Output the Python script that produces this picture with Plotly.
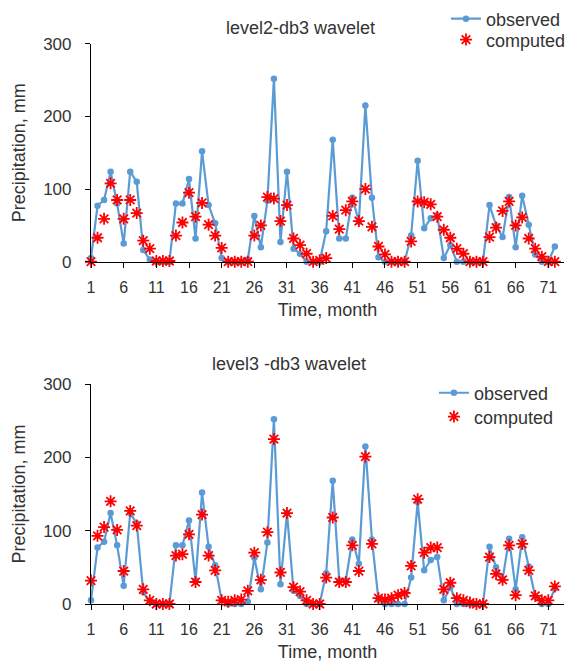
import plotly.graph_objects as go
from plotly.subplots import make_subplots

months = list(range(1, 73))

observed = [5, 77, 85, 124, 80, 25, 124, 110, 16, 3, 0, 0,
            0, 80, 80, 114, 32, 152, 78, 53, 5, 0, 0, 0,
            3, 63, 20, 84, 252, 27, 124, 18, 11, 0, 0, 0,
            42, 168, 32, 32, 88, 55, 215, 88, 6, 0, 0, 0,
            0, 36, 139, 46, 60, 64, 5, 23, 0, 0, 0, 0,
            0, 78, 50, 34, 89, 20, 91, 51, 10, 0, 0, 21]

computed_l2 = [0, 33, 59, 108, 85, 59, 85, 67, 29, 18, 1, 1,
               1, 36, 54, 95, 62, 81, 51, 36, 19, 0, 0, 0,
               0, 36, 50, 89, 87, 56, 78, 32, 23, 11, 0, 2,
               5, 63, 45, 71, 83, 56, 100, 48, 21, 10, 0, 0,
               0, 28, 83, 82, 79, 62, 44, 33, 18, 11, 0, 0,
               0, 34, 47, 70, 83, 50, 61, 32, 18, 7, 0, 0]

computed_l3 = [32, 93, 105, 140, 101, 45, 127, 107, 20, 5, 0, 0,
               0, 66, 68, 95, 30, 122, 66, 46, 5, 3, 5, 6,
               18, 70, 33, 98, 225, 43, 124, 23, 17, 5, 0, 0,
               36, 118, 30, 30, 80, 45, 201, 82, 8, 6, 8, 12,
               15, 52, 143, 70, 77, 77, 20, 29, 8, 5, 2, 0,
               0, 64, 41, 33, 80, 12, 82, 46, 11, 5, 5, 24]

titles = ["level2-db3 wavelet", "level3 -db3 wavelet"]
x_ticks = list(range(1, 73, 5))
y_ticks = [0, 100, 200, 300]

BLUE = "#5B9BD5"
RED = "#FF0000"
TXT = "#333333"

fig = make_subplots(rows=2, cols=1)

# one legend per entry so each row can be placed like the original
legend_pos = {
    "legend": (0.7505, 0.9735), "legend2": (0.7505, 0.9387),
    "legend3": (0.725, 0.351), "legend4": (0.725, 0.3113),
}

for row, comp in [(1, computed_l2), (2, computed_l3)]:
    l_obs = "legend" if row == 1 else "legend3"
    l_cmp = "legend2" if row == 1 else "legend4"
    fig.add_trace(go.Scatter(
        x=months, y=observed, mode="lines+markers", name="observed",
        line=dict(color=BLUE, width=2.2), marker=dict(size=6.5, color=BLUE),
        cliponaxis=False, showlegend=True, legend=l_obs), row=row, col=1)
    fig.add_trace(go.Scatter(
        x=months, y=comp, mode="markers", name="computed",
        marker=dict(symbol="asterisk-open", size=10, color=RED,
                    line=dict(color=RED, width=1.8)),
        cliponaxis=False, showlegend=True, legend=l_cmp), row=row, col=1)

# plot areas in px: top 41..260, bottom 383..604 (paper height 604)
fig.update_layout(
    width=577, height=671, showlegend=True,
    margin=dict(l=91, r=13, t=0, b=67),
    paper_bgcolor="white", plot_bgcolor="white",
    font=dict(family="Liberation Sans, Arial", size=16, color=TXT),
    yaxis=dict(domain=[0.5695, 0.9321]),
    yaxis2=dict(domain=[0.0, 0.3659]),
)
for name, (lx, ly) in legend_pos.items():
    fig.update_layout({name: dict(x=lx, y=ly, xanchor="left", yanchor="middle",
                                  bgcolor="rgba(0,0,0,0)", font=dict(size=18))})

for row in (1, 2):
    fig.update_xaxes(
        range=[1, 73.4], tickvals=x_ticks, ticks="outside", ticklen=5,
        tickcolor="#000", showline=True, linecolor="#000", linewidth=1.2,
        showgrid=False, zeroline=False, automargin=False,
        ticklabelstandoff=6, tickfont=dict(size=16),
        title=dict(text="Time, month", standoff=8, font=dict(size=18)),
        row=row, col=1)
    fig.update_yaxes(
        range=[0, 300], tickvals=y_ticks, ticks="outside", ticklen=5,
        tickcolor="#000", showline=True, linecolor="#000", linewidth=1.2,
        showgrid=False, zeroline=False, automargin=False,
        ticklabelstandoff=10, tickfont=dict(size=17),
        title=dict(text="Precipitation, mm", standoff=12, font=dict(size=18)),
        row=row, col=1)

fig.add_annotation(text=titles[0], x=0.442, y=0.9586, xref="paper", yref="paper",
                   xanchor="center", yanchor="middle",
                   showarrow=False, font=dict(size=18, color=TXT))
fig.add_annotation(text=titles[1], x=0.419, y=0.399, xref="paper", yref="paper",
                   xanchor="center", yanchor="middle",
                   showarrow=False, font=dict(size=18, color=TXT))

fig.write_html("out.html", config={"displayModeBar": False},
               post_script="document.body.style.margin='0';")
